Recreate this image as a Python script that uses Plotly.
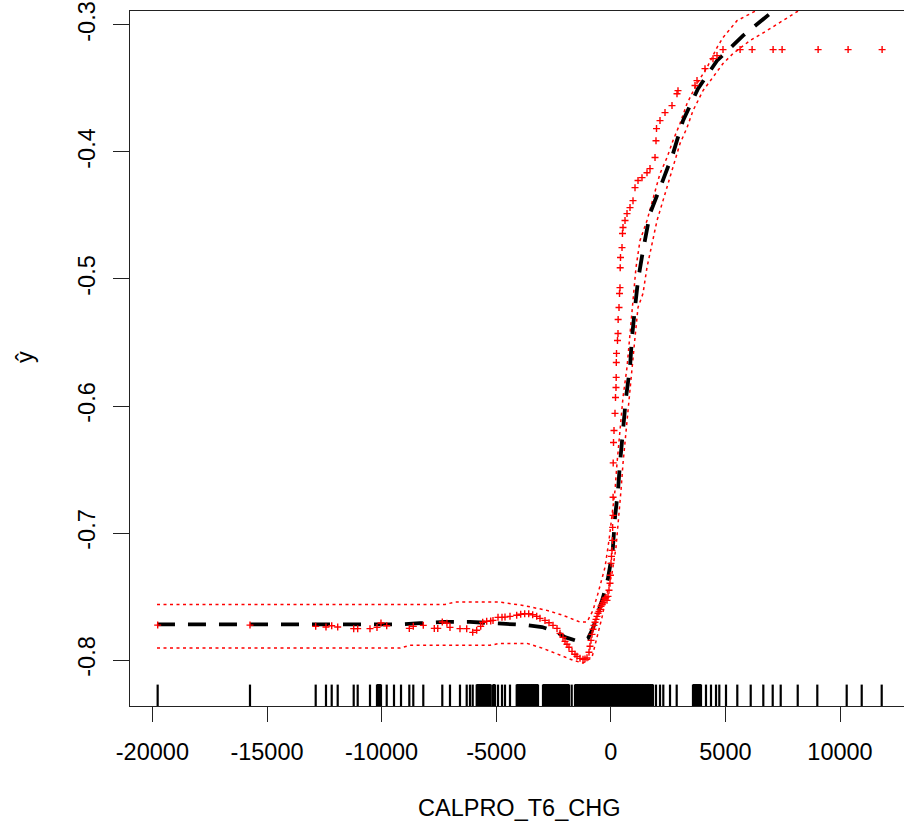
import plotly.graph_objects as go

# ---------------- data ----------------
# fitted partial dependence (black dashed)
fit_x = [-19800, -15740, -12250, -9200, -8325, -7234, -6143, -5271, -4398, -3656, -3002, -2347,
         -1998, -1562, -1257, -995, -777, -558, -340, -122, 83, 183, 314, 401, 519, 663, 838,
         925, 1056, 1187, 1405, 1710, 2234, 2714, 3150, 3805, 4633, 5768, 6946, 8500, 10400, 11800]
fit_y = [-0.772, -0.772, -0.772, -0.772, -0.771, -0.770, -0.770, -0.771, -0.772, -0.7725, -0.774,
         -0.778, -0.782, -0.7845, -0.7853, -0.783, -0.775, -0.7625, -0.7507, -0.7357, -0.7137,
         -0.6877, -0.6664, -0.6451, -0.6193, -0.5933, -0.5696, -0.546, -0.5224, -0.5011, -0.4775,
         -0.4485, -0.4241, -0.4013, -0.3753, -0.3501, -0.3281, -0.3084, -0.2911, -0.275, -0.262, -0.255]

# upper confidence band (red dotted)
upper_x = [-19799, -7234, -6798, -4834, -3831, -2784, -2086, -1344, -1038, -777, -558, -253, -79,
           52, 183, 271, 401, 532, 707, 838, 969, 1100, 1274, 1579, 1841, 2147, 2452, 2714, 3019,
           3325, 3761, 4197, 4633, 4895, 5506, 6292, 8000, 11800]
upper_y = [-0.7562, -0.7562, -0.7544, -0.7544, -0.7570, -0.7609, -0.7648, -0.7701, -0.7701,
           -0.7609, -0.7475, -0.7270, -0.7058, -0.6877, -0.6664, -0.6452, -0.6192, -0.5933,
           -0.5696, -0.5460, -0.5169, -0.4909, -0.4697, -0.4540, -0.4359, -0.4170, -0.4044,
           -0.3910, -0.3776, -0.3619, -0.3461, -0.3335, -0.3178, -0.3099, -0.2966, -0.2892,
           -0.270, -0.245]

# lower confidence band (red dotted)
lower_x = [-19799, -9197, -8761, -5271, -4834, -3656, -2958, -2216, -1649, -1213, -995, -820,
           -602, -384, -166, 52, 227, 358, 445, 532, 663, 794, 925, 1056, 1187, 1405, 1579, 1798,
           2016, 2278, 2496, 2801, 3019, 3325, 3587, 4023, 4459, 4895, 5332, 6073, 6815, 7513,
           8158, 10000, 11800]
lower_y = [-0.7906, -0.7906, -0.7884, -0.7884, -0.7869, -0.7869, -0.7908, -0.7963, -0.8002,
           -0.8024, -0.8002, -0.7979, -0.7821, -0.7664, -0.7475, -0.7318, -0.7113, -0.6877,
           -0.6664, -0.6452, -0.6192, -0.5933, -0.5696, -0.5460, -0.5224, -0.5114, -0.4909,
           -0.4721, -0.4540, -0.4383, -0.4249, -0.4068, -0.3934, -0.3808, -0.3674, -0.3517,
           -0.3415, -0.3304, -0.3225, -0.3123, -0.3044, -0.2966, -0.2892, -0.275, -0.265]

# individual predictions (red +)
pts_x = [-19769, -15742, -12875, -12426, -12177, -11915, -11217, -11043, -10506, -10201, -10027,
         -9777, -8791, -8617, -8181, -7700, -7550, -7352, -7150, -7016, -6580, -6287, -6025,
         -5851, -5676, -5589, -5415, -5240, -5139, -4921, -4747, -4616, -4398, -4106, -3931,
         -3757, -3582, -3408, -3233, -3089, -2871, -2696, -2522, -2347, -2216, -2086, -1998,
         -1911, -1824, -1693, -1562, -1475, -1344, -1213, -1126, -1038, -951, -908, -864, -820,
         -777, -733, -689, -646, -602, -558, -515, -471, -428, -384, -340, -297, -253, -209,
         -166, -122, -79, -35, -13, 9, 31, 52, 74, 80, 96, 100, 105, 118, 140, 183, 205, 227,
         235, 240, 249, 292, 314, 320, 358, 380, 401, 410, 423, 489, 510, 532, 620, 707, 838,
         969, 1056, 1187, 1361, 1579, 1710, 1929, 1972, 1994, 2147, 2365, 2670, 2888, 2932,
         3674, 3761, 4110, 4459, 4633, 4895, 5641, 6165, 7081, 7474, 9045, 10353, 11837]
pts_y = [-0.7725, -0.7725, -0.7735, -0.7740, -0.7730, -0.7740, -0.7753, -0.7753, -0.7753,
         -0.7743, -0.7709, -0.7730, -0.7751, -0.7735, -0.7727, -0.7751, -0.7751, -0.7701,
         -0.7711, -0.7743, -0.7753, -0.7753, -0.7782, -0.7766, -0.7735, -0.7703, -0.7695,
         -0.7692, -0.7688, -0.7664, -0.7664, -0.7662, -0.7656, -0.7648, -0.7640, -0.7636,
         -0.7636, -0.7644, -0.7656, -0.7672, -0.7688, -0.7707, -0.7727, -0.7751, -0.7790,
         -0.7822, -0.7853, -0.7876, -0.7900, -0.7932, -0.7955, -0.7971, -0.7987, -0.7994,
         -0.7991, -0.7983, -0.7939, -0.7892, -0.7845, -0.7798, -0.7758, -0.7727, -0.7703,
         -0.7680, -0.7656, -0.7632, -0.7617, -0.7601, -0.7577, -0.7562, -0.7546, -0.7530,
         -0.7514, -0.7507, -0.7530, -0.7499, -0.7451, -0.7396, -0.7333, -0.7239, -0.7184,
         -0.7137, -0.7058, -0.6956, -0.6861, -0.6719, -0.6448, -0.6287, -0.6193, -0.6058,
         -0.5933, -0.5854, -0.5775, -0.5657, -0.5586, -0.5484, -0.5429, -0.5319, -0.5224,
         -0.5114, -0.5068, -0.4911, -0.4831, -0.4753, -0.4642, -0.4595, -0.4540, -0.4485,
         -0.4438, -0.4383, -0.4281, -0.4225, -0.4202, -0.4163, -0.4131, -0.4044, -0.3911,
         -0.3816, -0.3753, -0.3690, -0.3635, -0.3541, -0.3517, -0.3477, -0.3438, -0.3344,
         -0.3265, -0.3241, -0.3194, -0.3194, -0.3194, -0.3194, -0.3194, -0.3194, -0.3194,
         -0.3194]

# rug (observed x values)
rug_x = [-19770, -15742, -12875, -12426, -12177, -11915, -11217, -11043, -10506, -10201, -10114,
         -10027, -9777, -9459, -9153, -8791, -8617, -8181, -7352, -7016, -6580, -6287, -6143,
         -6025, -5851, -5764, -5676, -5589, -5502, -5415, -5327, -5240, -5139, -5052, -4921,
         -4747, -4616, -4398, -4106, -4018, -3931, -3844, -3757, -3669, -3582, -3495, -3408,
         -3320, -3233, -3176, -2958, -2871, -2784, -2696, -2609, -2522, -2435, -2347, -2260,
         -2173, -2086, -1998, -1911, -1824, -1706, -1562, -1490, -1420, -1345, -1270, -1200,
         -1125, -1050, -980, -905, -830, -760, -690, -615, -540, -470, -395, -320, -250, -175,
         -100, -30, 40, 110, 185, 255, 330, 400, 470, 545, 615, 690, 760, 835, 905, 975, 1050,
         1120, 1195, 1265, 1340, 1410, 1480, 1555, 1625, 1700, 1770, 1841, 1972, 2147, 2291,
         2583, 2875, 3586, 3674, 3761, 3848, 3935, 4153, 4371, 4590, 4734, 5026, 5519, 6104,
         6654, 7064, 7413, 8155, 9010, 10292, 10947, 11819]

x_tickvals = [-20000, -15000, -10000, -5000, 0, 5000, 10000]
x_ticktext = ["-20000", "-15000", "-10000", "-5000", "0", "5000", "10000"]
y_tickvals = [-0.8, -0.7, -0.6, -0.5, -0.4, -0.3]
y_ticktext = ["-0.8", "-0.7", "-0.6", "-0.5", "-0.4", "-0.3"]
x_title = "CALPRO_T6_CHG"
y_title = "ŷ"

# ---------------- figure ----------------
FONT = "Liberation Sans, Arial, sans-serif"
FS = 23.5

fig = go.Figure()

# rug ticks: each tick a short vertical segment; dense runs drawn a bit wider so they fuse
rx, ry = [], []
for v in rug_x:
    rx += [v, v, None]
    ry += [0, 0.0308, None]
fig.add_trace(go.Scatter(x=rx, y=ry, yaxis="y2", mode="lines",
                         line=dict(color="black", width=2.2), hoverinfo="skip"))
dense = sorted(rug_x)
dx, dy = [], []
for a, b in zip(dense[:-1], dense[1:]):
    if b - a < 100:
        dx += [a, b, b, a, a, None]
        dy += [0, 0, 0.0308, 0.0308, 0, None]
fig.add_trace(go.Scatter(x=dx, y=dy, yaxis="y2", mode="lines", fill="toself",
                         fillcolor="black", line=dict(color="black", width=1),
                         hoverinfo="skip"))

fig.add_trace(go.Scatter(x=upper_x, y=upper_y, mode="lines",
                         line=dict(color="#ff0000", width=1.5, dash="3px,3.5px")))
fig.add_trace(go.Scatter(x=lower_x, y=lower_y, mode="lines",
                         line=dict(color="#ff0000", width=1.5, dash="3px,3.5px")))
fig.add_trace(go.Scatter(x=fit_x, y=fit_y, mode="lines",
                         line=dict(color="black", width=3.8, dash="18px,13px")))
fig.add_trace(go.Scatter(x=pts_x, y=pts_y, mode="markers",
                         marker=dict(symbol="cross-thin", size=5, color="#ff0000",
                                     line=dict(color="#ff0000", width=1.4))))

fig.update_layout(
    width=904, height=828,
    margin=dict(l=130, r=0, t=11, b=122),
    paper_bgcolor="white", plot_bgcolor="white",
    showlegend=False,
    font=dict(family=FONT, size=FS, color="black"),
    xaxis=dict(range=[-20977, 12792], tickvals=x_tickvals, ticktext=x_ticktext,
               ticks="outside", ticklen=15, tickwidth=1.4, tickcolor="#222",
               showline=True, linecolor="#222", linewidth=1.4, mirror=True,
               showgrid=False, zeroline=False, tickfont=dict(size=FS),
               ticklabelstandoff=10),
    yaxis=dict(range=[-0.8362, -0.2890], tickvals=y_tickvals, ticktext=y_ticktext,
               ticks="outside", ticklen=16, tickwidth=1.4, tickcolor="#222",
               showline=True, linecolor="#222", linewidth=1.4,
               showgrid=False, zeroline=False, tickangle=-90, tickfont=dict(size=FS),
               ticklabelstandoff=8),
    yaxis2=dict(range=[0, 1], overlaying="y", visible=False, fixedrange=True),
    annotations=[
        dict(text=x_title, xref="paper", yref="paper", x=0.503, y=-0.1468,
             xanchor="center", yanchor="middle", showarrow=False,
             font=dict(family=FONT, size=FS, color="black")),
        dict(text=y_title, xref="paper", yref="paper", x=-0.1357, y=0.502,
             xanchor="center", yanchor="middle", showarrow=False, textangle=-90,
             font=dict(family=FONT, size=FS, color="black")),
    ],
)

fig.write_html("out.html")
